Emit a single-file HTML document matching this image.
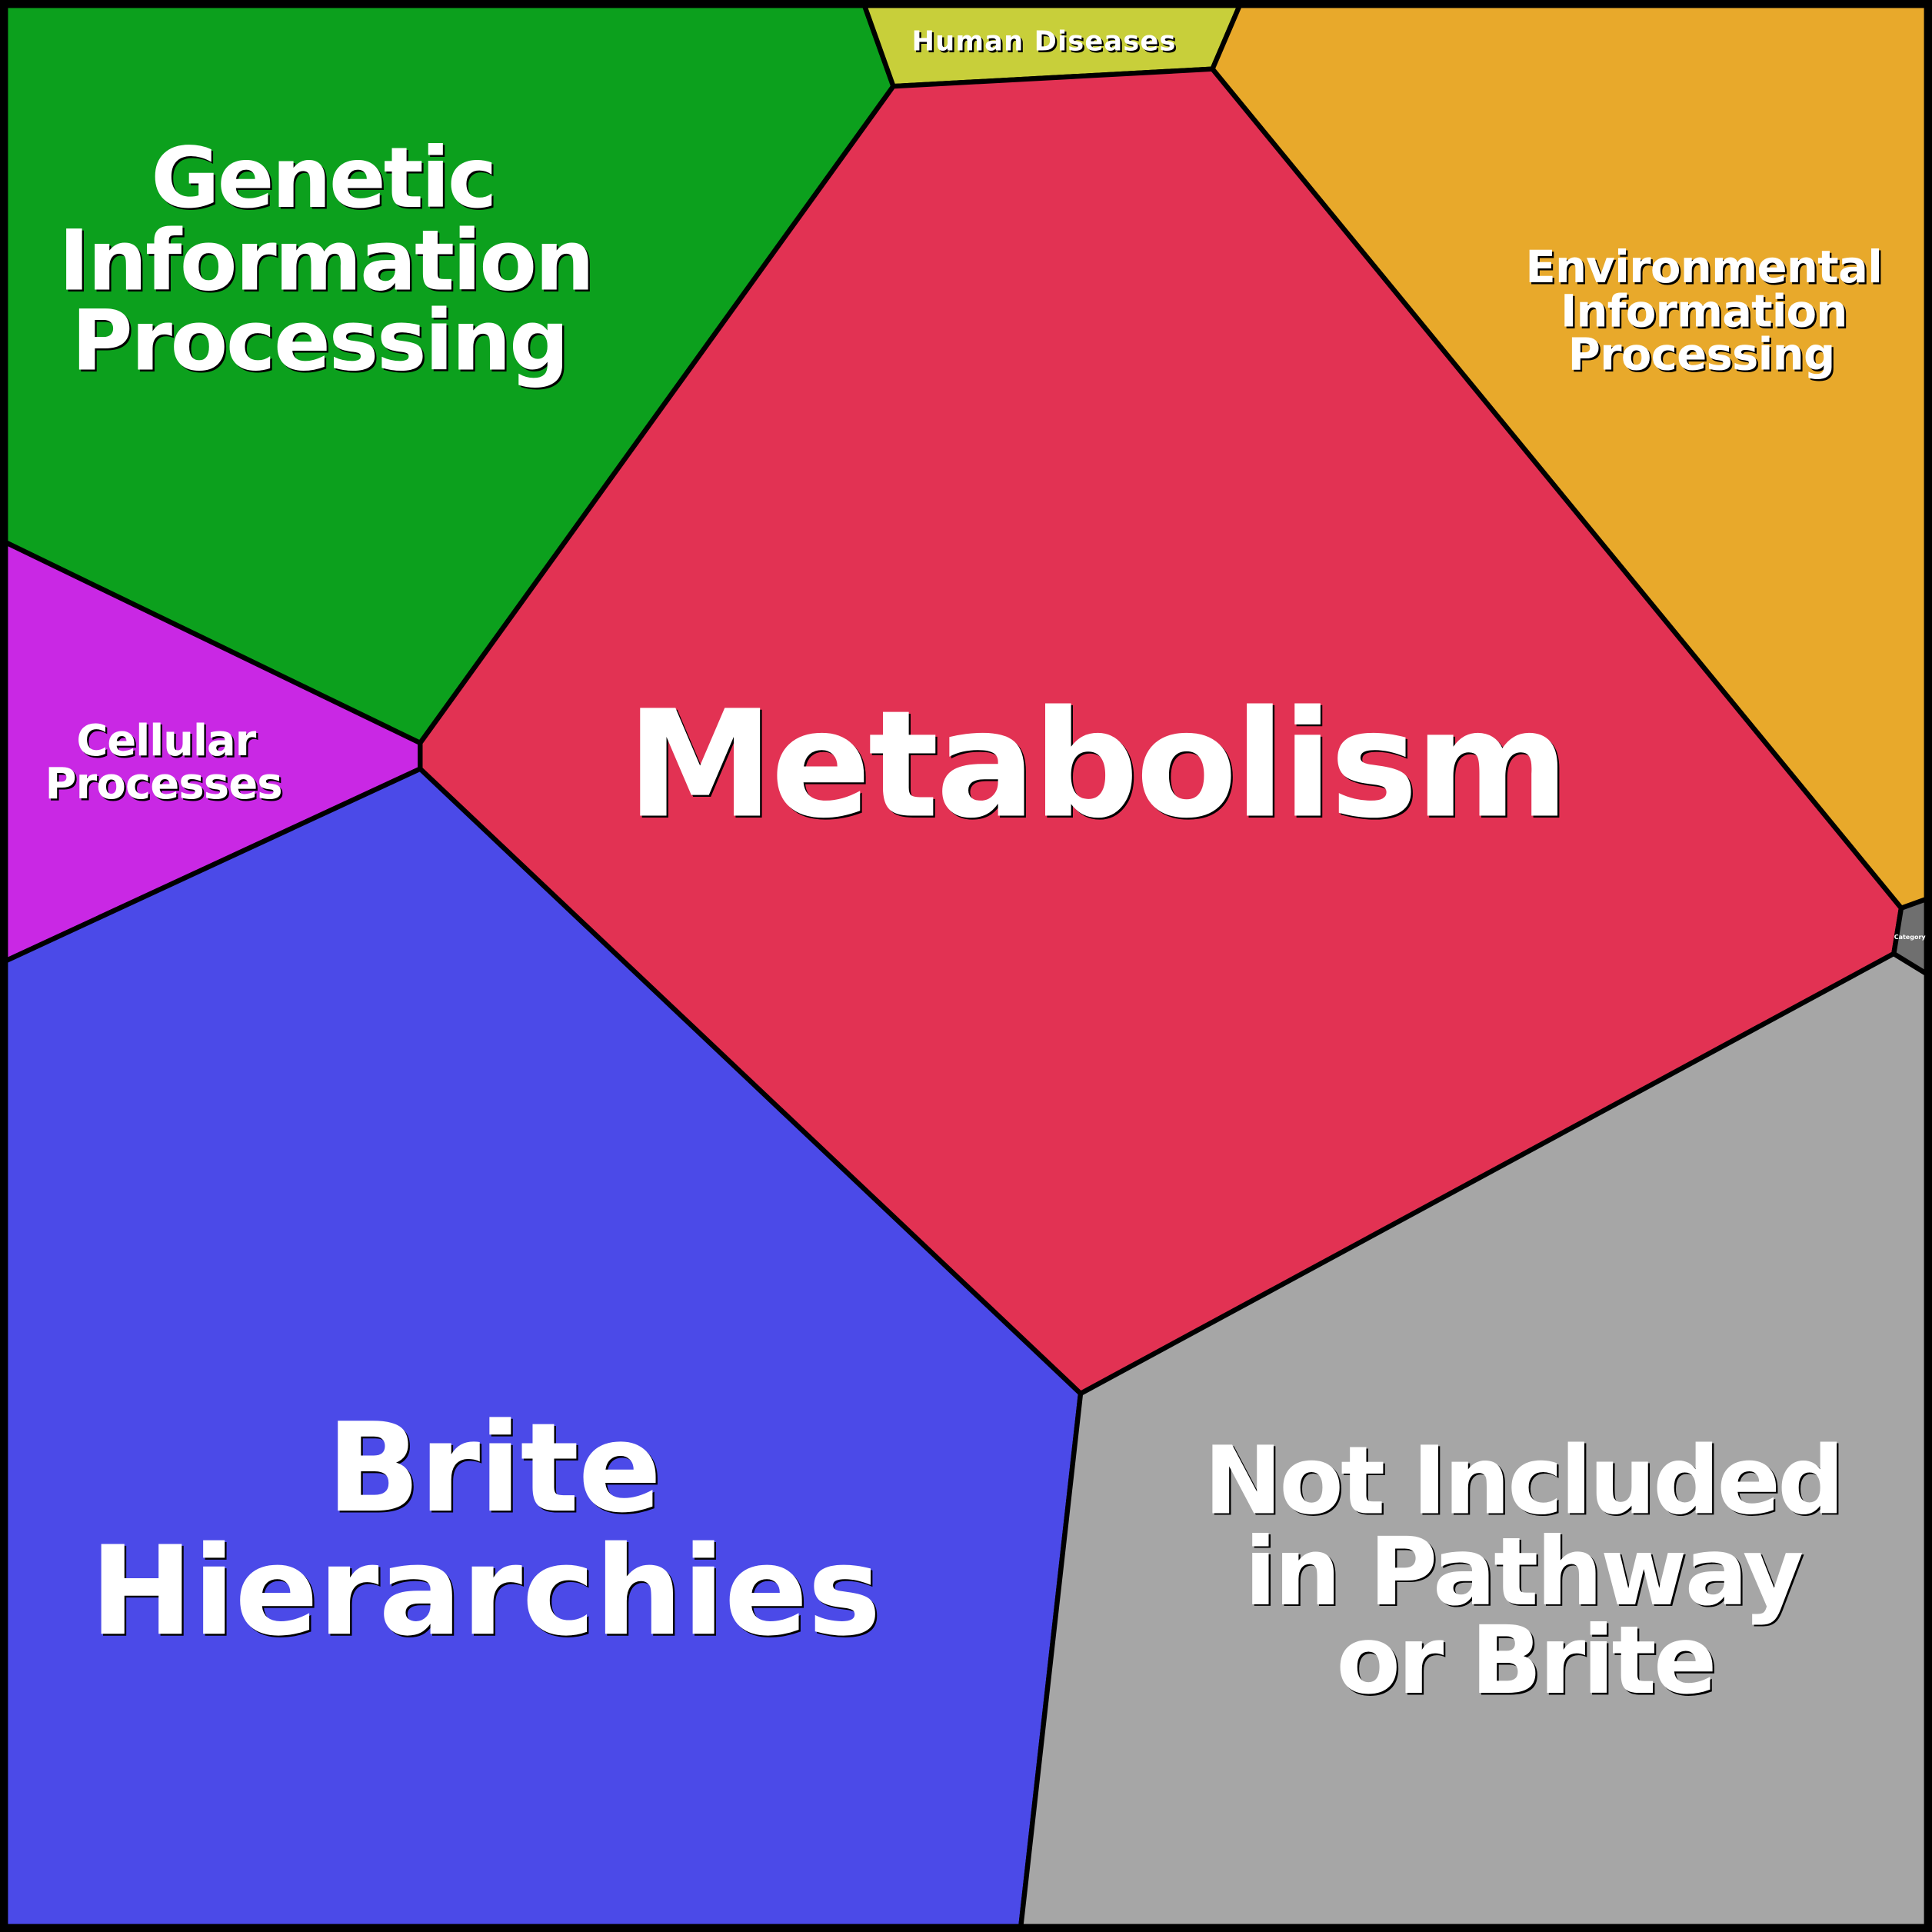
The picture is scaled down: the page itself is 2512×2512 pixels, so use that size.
<!DOCTYPE html>
<html><head><meta charset="utf-8"><style>html,body{margin:0;padding:0;background:#fff}svg{display:block}</style></head>
<body>
<svg width="2512" height="2512" viewBox="0 0 1568 1568" xmlns="http://www.w3.org/2000/svg">
<g stroke="#000" stroke-width="4" stroke-linejoin="round">
<polygon points="0,0 700,0 725,70 341,603 0,438" fill="#0ca01d"/>
<polygon points="700,0 1008,0 984,56 725,70" fill="#c8cf3a"/>
<polygon points="1008,0 1568,0 1568,730 1543,737 984,56" fill="#e8a92b"/>
<polygon points="725,70 984,56 1543,737 1537,774 877,1131 341,624 341,603" fill="#e23253"/>
<polygon points="0,438 341,603 341,624 0,782" fill="#c928e4"/>
<polygon points="0,782 341,624 877,1131 828,1568 0,1568" fill="#4b4ae8"/>
<polygon points="877,1131 1537,774 1568,793 1568,1568 828,1568" fill="#a6a6a6"/>
<polygon points="1543,737 1568,728 1568,793 1537,774" fill="#6f6f6f"/>
</g>
<rect x="3" y="3" width="1562" height="1562" fill="none" stroke="#000" stroke-width="7"/>
<g font-family="'DejaVu Sans','Liberation Sans',sans-serif" font-weight="bold" text-anchor="middle" lengthAdjust="spacingAndGlyphs">
<g fill="#000" transform="translate(1.5,1.5)">
<text x="891" y="662" font-size="120" textLength="765">Metabolism</text>
<text x="263" y="168" font-size="68" textLength="281">Genetic</text>
<text x="265" y="235" font-size="68" textLength="435">Information</text>
<text x="260" y="300" font-size="68" textLength="404">Processing</text>
<text x="1383" y="229" font-size="36" textLength="290">Environmental</text>
<text x="1383" y="265" font-size="36" textLength="233">Information</text>
<text x="1381" y="300" font-size="36" textLength="217">Processing</text>
<text x="135" y="613" font-size="35" textLength="146">Cellular</text>
<text x="133" y="648" font-size="35" textLength="193">Processes</text>
<text x="847" y="41" font-size="22" textLength="214">Human Diseases</text>
<text x="401" y="1226" font-size="100" textLength="272">Brite</text>
<text x="394" y="1326" font-size="100" textLength="642">Hierarchies</text>
<text x="1237" y="1228" font-size="76" textLength="520">Not Included</text>
<text x="1237" y="1302" font-size="76" textLength="454">in Pathway</text>
<text x="1239" y="1374" font-size="76" textLength="309">or Brite</text>
</g>
<g fill="#fff">
<text x="891" y="662" font-size="120" textLength="765">Metabolism</text>
<text x="263" y="168" font-size="68" textLength="281">Genetic</text>
<text x="265" y="235" font-size="68" textLength="435">Information</text>
<text x="260" y="300" font-size="68" textLength="404">Processing</text>
<text x="1383" y="229" font-size="36" textLength="290">Environmental</text>
<text x="1383" y="265" font-size="36" textLength="233">Information</text>
<text x="1381" y="300" font-size="36" textLength="217">Processing</text>
<text x="135" y="613" font-size="35" textLength="146">Cellular</text>
<text x="133" y="648" font-size="35" textLength="193">Processes</text>
<text x="847" y="41" font-size="22" textLength="214">Human Diseases</text>
<text x="401" y="1226" font-size="100" textLength="272">Brite</text>
<text x="394" y="1326" font-size="100" textLength="642">Hierarchies</text>
<text x="1237" y="1228" font-size="76" textLength="520">Not Included</text>
<text x="1237" y="1302" font-size="76" textLength="454">in Pathway</text>
<text x="1239" y="1374" font-size="76" textLength="309">or Brite</text>
<text x="1550" y="762" font-size="5">Category</text>
</g>
</g>
</svg>
</body></html>
